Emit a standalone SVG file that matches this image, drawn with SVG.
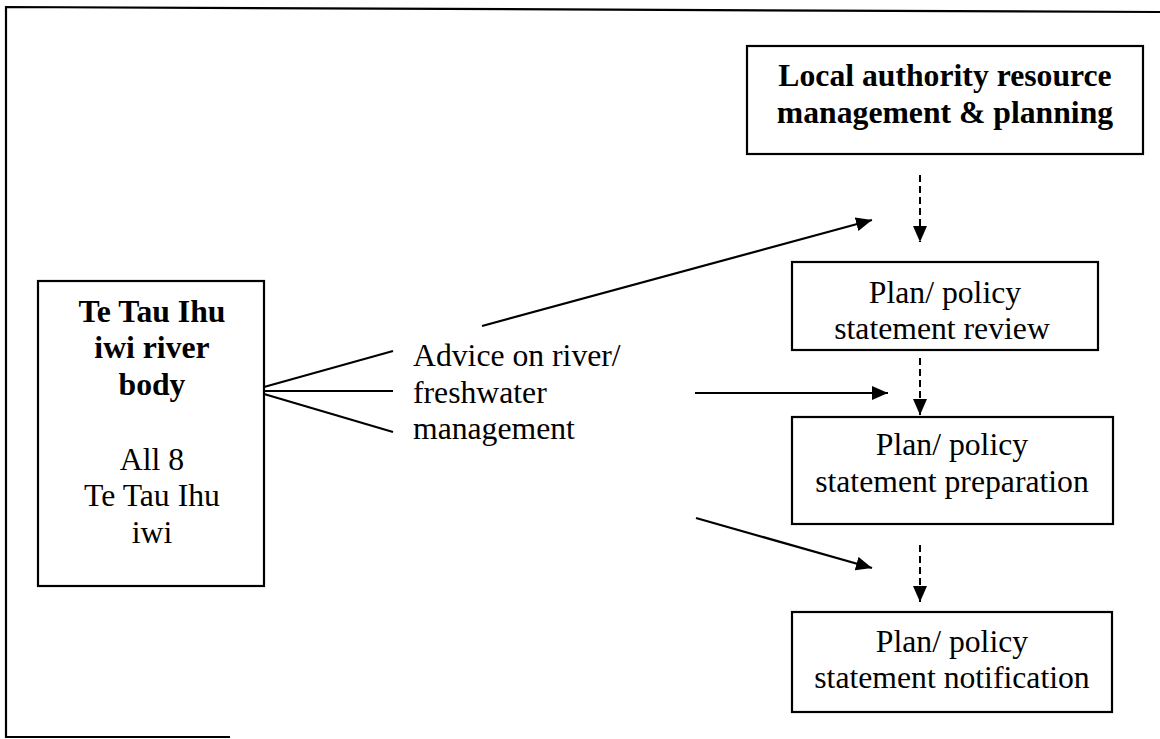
<svg xmlns="http://www.w3.org/2000/svg" width="1160" height="739" viewBox="0 0 1160 739">
<defs>
<marker id="ah" viewBox="0 0 16 14" refX="16" refY="7" markerWidth="16" markerHeight="14" markerUnits="userSpaceOnUse" orient="auto">
<path d="M0,0 L16,7 L0,14 Z" fill="#000"/>
</marker>
</defs>
<style>
.box{fill:#fff;stroke:#000;stroke-width:2.2}
.t{font-family:"Liberation Serif","Times New Roman",serif;font-size:31.7px;fill:#000;text-anchor:middle}
.b{font-weight:bold}
.ln{stroke:#000;stroke-width:2.2;fill:none}
.ar{stroke:#000;stroke-width:2.2;fill:none;marker-end:url(#ah)}
.da{stroke:#000;stroke-width:2;fill:none;stroke-dasharray:7 4;marker-end:url(#ah)}
</style>
<rect width="1160" height="739" fill="#fff"/>
<path class="ln" d="M230 737 H6 V7 L1160 12"/>
<g id="local-authority">
<rect class="box" x="747" y="46" width="396" height="108"/>
<text class="t b" x="945" y="86">Local authority resource</text>
<text class="t b" x="945" y="123">management &amp; planning</text>
</g>
<g id="review">
<rect class="box" x="792" y="262" width="306" height="88"/>
<text class="t" x="945" y="303">Plan/ policy</text>
<text class="t" x="942" y="339">statement review</text>
</g>
<g id="preparation">
<rect class="box" x="792" y="417" width="321" height="107"/>
<text class="t" x="952" y="455">Plan/ policy</text>
<text class="t" x="952" y="492">statement preparation</text>
</g>
<g id="notification">
<rect class="box" x="792" y="612" width="320" height="100"/>
<text class="t" x="952" y="652">Plan/ policy</text>
<text class="t" x="952" y="688">statement notification</text>
</g>
<g id="iwi-body">
<rect class="box" x="38" y="281" width="226" height="305"/>
<text class="t b" x="152" y="322">Te Tau Ihu</text>
<text class="t b" x="152" y="358">iwi river</text>
<text class="t b" x="152" y="395">body</text>
<text class="t" x="152" y="470">All 8</text>
<text class="t" x="152" y="506">Te Tau Ihu</text>
<text class="t" x="152" y="543">iwi</text>
</g>
<g id="advice">
<text class="t" x="413" y="366" style="text-anchor:start">Advice on river/</text>
<text class="t" x="413" y="403" style="text-anchor:start">freshwater</text>
<text class="t" x="413" y="439" style="text-anchor:start">management</text>
</g>
<g id="connectors">
<line class="ln" x1="264" y1="387" x2="393" y2="351"/>
<line class="ln" x1="264" y1="391" x2="393" y2="391"/>
<line class="ln" x1="264" y1="394" x2="393" y2="432"/>
<line class="ar" x1="482" y1="326" x2="872" y2="220"/>
<line class="ar" x1="695" y1="393" x2="888" y2="393"/>
<line class="ar" x1="696" y1="518" x2="872" y2="568"/>
<line class="da" x1="920" y1="175" x2="920" y2="242"/>
<line class="da" x1="920" y1="358" x2="920" y2="415"/>
<line class="da" x1="920" y1="545" x2="920" y2="602"/>
</g>
</svg>
